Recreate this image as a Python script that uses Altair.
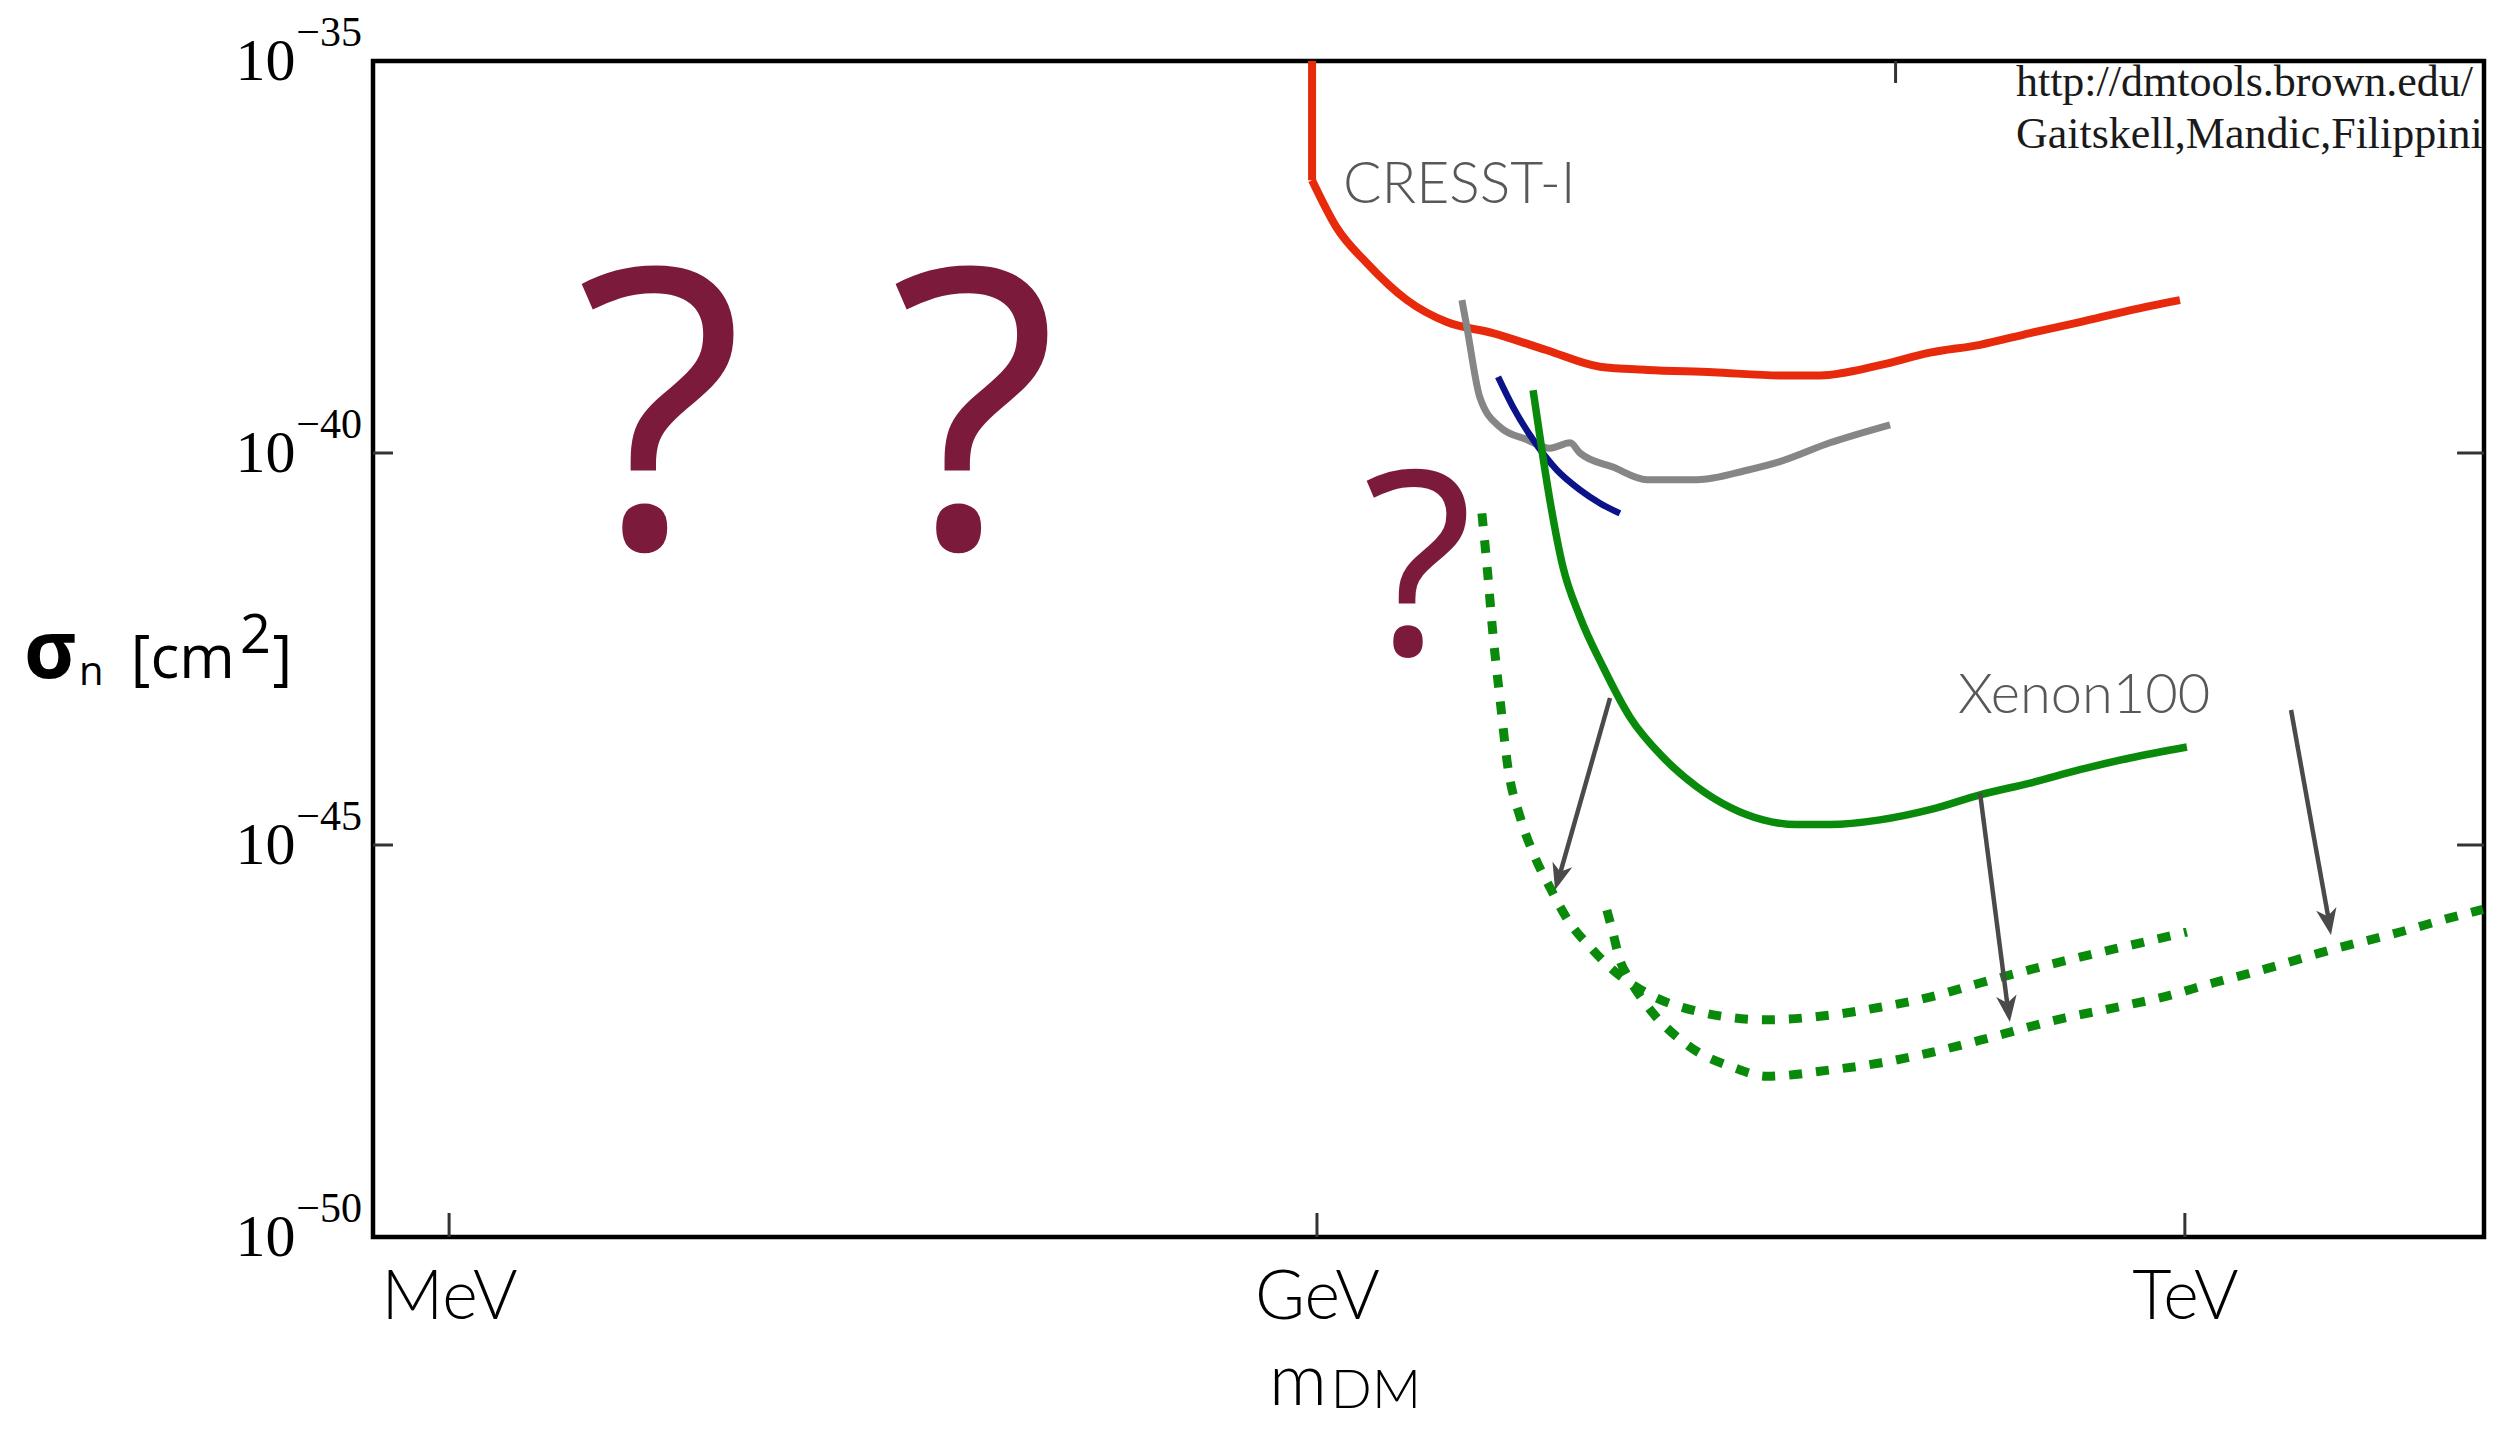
import altair as alt
import pandas as pd

# ---------------- values ----------------
# all positions are log10(m / GeV) and log10(sigma / cm^2)
X_LO, X_HI = -3.263, 4.034
Y_LO, Y_HI = -50.0, -35.0

x_ticks = [-3, 0, 3]
x_tick_labels = ["MeV", "GeV", "TeV"]
y_ticks = [-50, -45, -40, -35]
y_exponents = ["\u221250", "\u221245", "\u221240", "\u221235"]

# CRESST-I (red): vertical part, then the curve
red_vert_logm = [-0.017, -0.017]
red_vert_logs = [-35.0, -36.52]
red_logm = [-0.017, 0.069, 0.173, 0.311, 0.449, 0.608, 0.795, 0.978, 1.141,
            1.369, 1.600, 1.739, 1.946, 2.119, 2.292, 2.465, 2.637, 2.810, 2.983]
red_logs = [-36.52, -37.13, -37.58, -38.05, -38.33, -38.47, -38.69, -38.90, -38.94,
            -38.97, -39.01, -39.01, -38.88, -38.72, -38.62, -38.47, -38.33, -38.18, -38.05]
# grey curve
gray_logm = [0.501, 0.518, 0.563, 0.633, 0.726, 0.805, 0.875, 0.909, 1.023, 1.141,
             1.314, 1.486, 1.600, 1.773, 1.981]
gray_logs = [-38.05, -38.39, -39.29, -39.67, -39.83, -39.94, -39.87, -40.00, -40.18, -40.34,
             -40.34, -40.22, -40.11, -39.87, -39.64]
# blue curve
blue_logm = [0.626, 0.677, 0.747, 0.830, 0.909, 0.978, 1.047]
blue_logs = [-39.03, -39.41, -39.83, -40.22, -40.47, -40.64, -40.77]
# Xenon100 (solid green)
green_logm = [0.747, 0.781, 0.805, 0.850, 0.909, 0.989, 1.082, 1.196, 1.314, 1.428,
              1.542, 1.659, 1.773, 1.946, 2.119, 2.292, 2.465, 2.637, 2.810, 3.007]
green_logs = [-39.20, -40.05, -40.60, -41.45, -42.09, -42.73, -43.37, -43.88, -44.26, -44.52,
              -44.68, -44.74, -44.74, -44.68, -44.55, -44.36, -44.21, -44.04, -43.89, -43.75]
# projection A (dotted green, upper)
projA_logm = [0.570, 0.588, 0.608, 0.633, 0.660, 0.702, 0.747, 0.805, 0.875, 0.944, 1.013,
              1.151, 1.324, 1.555, 1.773, 1.946, 2.119, 2.292, 2.465, 2.637, 2.810, 3.007]
projA_logs = [-40.77, -41.45, -42.30, -43.15, -44.01, -44.64, -45.10, -45.54, -46.00, -46.30, -46.56,
              -46.91, -47.13, -47.23, -47.17, -47.07, -46.94, -46.76, -46.59, -46.43, -46.28, -46.11]
# projection B (dotted green, lower)
projB_logm = [1.002, 1.023, 1.047, 1.072, 1.137, 1.276, 1.441, 1.555, 1.773, 1.946, 2.119,
              2.292, 2.579, 2.751, 2.924, 3.097, 3.270, 3.502, 3.744, 3.916, 4.030]
projB_logs = [-45.83, -46.12, -46.47, -46.66, -47.03, -47.54, -47.84, -47.95, -47.87, -47.78, -47.65,
              -47.49, -47.21, -47.08, -46.94, -46.76, -46.59, -46.34, -46.11, -45.93, -45.82]

# arrows: start, shaft end, tip, rotation of head
arrow_x0 = [1.013, 2.292, 3.367]
arrow_y0 = [-43.125, -44.337, -43.278]
arrow_xs = [0.837, 2.388, 3.498]
arrow_ys = [-45.408, -47.079, -45.969]
arrow_xt = [0.823, 2.395, 3.505]
arrow_yt = [-45.574, -47.258, -46.148]
arrow_angle = [16.0, 352.5, 349.9]

# inward frame ticks
tick_x1 = [-3.263, -3.263, 3.941, 3.941, -3, 0, 3, 2]
tick_x2 = [-3.194, -3.194, 4.034, 4.034, -3, 0, 3, 2]
tick_y1 = [-40, -45, -40, -45, -50, -50, -50, -35]
tick_y2 = [-40, -45, -40, -45, -49.694, -49.694, -49.694, -35.28]

# annotations
qm_text = ["?", "?", "?"]
qm_logm = [-2.271, -1.186, 0.349]
qm_logs = [-41.21, -41.21, -42.56]
qm_size = [390, 390, 256]

exp_label_text = ["CRESST-I", "Xenon100"]
exp_label_logm = [0.090, 2.216]
exp_label_logs = [-36.81, -43.32]
exp_label_size = [57, 56]

credit_text = ["http://dmtools.brown.edu/", "Gaitskell,Mandic,Filippini"]
credit_logm = [2.416, 2.416]
credit_logs = [-35.45, -36.11]

ytitle_text = ["n", "[cm", "2", "]"]
ytitle_logm = [-4.279, -4.100, -3.723, -3.610]
ytitle_logs = [-42.959, -42.870, -42.551, -42.870]
ytitle_size = [40, 60, 54, 60]
sigma_logm, sigma_logs = -4.469, -42.870

xtitle_text = ["m", "DM"]
xtitle_logm = [-0.166, 0.048]
xtitle_logs = [-52.143, -52.181]
xtitle_size = [72, 54]

# ---------------- helpers ----------------
def p(v):
    return 10.0 ** v

xscale = alt.Scale(type="log", domain=[p(X_LO), p(X_HI)], nice=False)
yscale = alt.Scale(type="log", domain=[p(Y_LO), p(Y_HI)], nice=False)

x_expr = "datum.value < 0.03 ? '%s' : (datum.value < 30 ? '%s' : '%s')" % tuple(x_tick_labels)
xaxis = alt.Axis(values=[p(v) for v in x_ticks], labelExpr=x_expr, title=None, grid=False,
                 ticks=False, tickSize=0, domain=False, labelFont="Lato", labelFontSize=68,
                 labelFontWeight=300, labelColor="black", labelPadding=81,
                 labelBaseline="alphabetic", labelFlush=False, labelOverlap=False)
yaxis = alt.Axis(values=[p(v) for v in y_ticks], labelExpr="'10'", title=None, grid=False,
                 ticks=False, tickSize=0, domain=False, labelFont="Liberation Serif",
                 labelFontSize=60, labelColor="black", labelPadding=78,
                 labelFlush=False, labelOverlap=False)

def X(f):
    return alt.X(f, type="quantitative", scale=xscale, axis=xaxis)

def Y(f):
    return alt.Y(f, type="quantitative", scale=yscale, axis=yaxis)

def curve_df(lm, ls):
    return pd.DataFrame({"i": list(range(len(lm))), "m": [p(v) for v in lm], "s": [p(v) for v in ls]})

def line(lm, ls, color, width, dash=None, interp="linear"):
    kw = dict(color=color, strokeWidth=width, interpolate=interp, clip=True, strokeCap="butt")
    if dash:
        kw["strokeDash"] = dash
    return alt.Chart(curve_df(lm, ls)).mark_line(**kw).encode(
        x=X("m"), y=Y("s"), order=alt.Order("i:Q"))

RED = "#E82A0C"
GREEN = "#0A8A0A"
layers = []
layers.append(line(red_vert_logm, red_vert_logs, RED, 8))
layers.append(line(red_logm, red_logs, RED, 8, interp="monotone"))
layers.append(line(gray_logm, gray_logs, "#868686", 7, interp="monotone"))
layers.append(line(blue_logm, blue_logs, "#0A1488", 6.5, interp="monotone"))
layers.append(line(green_logm, green_logs, GREEN, 7.5, interp="monotone"))
layers.append(line(projA_logm, projA_logs, GREEN, 9, dash=[13, 14], interp="monotone"))
layers.append(line(projB_logm, projB_logs, GREEN, 9, dash=[13, 14], interp="monotone"))

# frame ticks
tick_df = pd.DataFrame({"x1": [p(v) for v in tick_x1], "x2": [p(v) for v in tick_x2],
                        "y1": [p(v) for v in tick_y1], "y2": [p(v) for v in tick_y2]})
layers.append(alt.Chart(tick_df).mark_rule(color="#333333", strokeWidth=3).encode(
    x=X("x1"), x2="x2", y=Y("y1"), y2="y2"))

# arrows
arrow_df = pd.DataFrame({"x0": [p(v) for v in arrow_x0], "y0": [p(v) for v in arrow_y0],
                         "xs": [p(v) for v in arrow_xs], "ys": [p(v) for v in arrow_ys],
                         "xt": [p(v) for v in arrow_xt], "yt": [p(v) for v in arrow_yt],
                         "ang": arrow_angle})
layers.append(alt.Chart(arrow_df).mark_rule(color="#4a4a4a", strokeWidth=4.5).encode(
    x=X("x0"), x2="xs", y=Y("y0"), y2="ys"))
layers.append(alt.Chart(arrow_df).mark_point(
    shape="M0,0 L-0.62,-1.6 L0,-1.15 L0.62,-1.6 Z", filled=True, size=1100,
    opacity=1, color="#4a4a4a").encode(
    x=X("xt"), y=Y("yt"), angle=alt.Angle("ang:Q", scale=None)))

# y tick exponents
exp_df = pd.DataFrame({"x": [p(X_LO)] * len(y_ticks), "y": [p(v) for v in y_ticks], "t": y_exponents})
layers.append(alt.Chart(exp_df).mark_text(font="Liberation Serif", fontSize=42, color="black",
                                          align="right", baseline="alphabetic", dx=-11, dy=-15).encode(
    x=X("x"), y=Y("y"), text="t:N"))

# question marks
qm_df = pd.DataFrame({"x": [p(v) for v in qm_logm], "y": [p(v) for v in qm_logs],
                      "t": qm_text, "fs": qm_size})
layers.append(alt.Chart(qm_df).mark_text(font="Open Sans", color="#7B1A3B", align="center",
                                         baseline="alphabetic").encode(
    x=X("x"), y=Y("y"), text="t:N", size=alt.Size("fs:Q", scale=None)))

# experiment labels
lab_df = pd.DataFrame({"x": [p(v) for v in exp_label_logm], "y": [p(v) for v in exp_label_logs],
                       "t": exp_label_text, "fs": exp_label_size})
layers.append(alt.Chart(lab_df).mark_text(font="Lato", fontWeight=300, color="#585858", align="left",
                                          baseline="alphabetic").encode(
    x=X("x"), y=Y("y"), text="t:N", size=alt.Size("fs:Q", scale=None)))

# credit
cr_df = pd.DataFrame({"x": [p(v) for v in credit_logm], "y": [p(v) for v in credit_logs], "t": credit_text})
layers.append(alt.Chart(cr_df).mark_text(font="Liberation Serif", fontSize=44, color="#1a1a1a",
                                         align="left", baseline="alphabetic").encode(
    x=X("x"), y=Y("y"), text="t:N"))

# y title
sig_df = pd.DataFrame({"x": [p(sigma_logm)], "y": [p(sigma_logs)], "t": ["\u03c3"]})
layers.append(alt.Chart(sig_df).mark_text(font="Open Sans", fontSize=80, fontWeight="bold",
                                          color="black", align="left", baseline="alphabetic").encode(
    x=X("x"), y=Y("y"), text="t:N"))
yt_df = pd.DataFrame({"x": [p(v) for v in ytitle_logm], "y": [p(v) for v in ytitle_logs],
                      "t": ytitle_text, "fs": ytitle_size})
layers.append(alt.Chart(yt_df).mark_text(font="Open Sans", color="black", align="left",
                                         baseline="alphabetic").encode(
    x=X("x"), y=Y("y"), text="t:N", size=alt.Size("fs:Q", scale=None)))

# x title
xt_df = pd.DataFrame({"x": [p(v) for v in xtitle_logm], "y": [p(v) for v in xtitle_logs],
                      "t": xtitle_text, "fs": xtitle_size})
layers.append(alt.Chart(xt_df).mark_text(font="Lato", fontWeight=300, color="black", align="left",
                                         baseline="alphabetic").encode(
    x=X("x"), y=Y("y"), text="t:N", size=alt.Size("fs:Q", scale=None)))

chart = alt.layer(*layers).properties(
    width=2111, height=1176,
    autosize=alt.AutoSizeParams(type="none"),
    padding={"left": 365, "top": 53, "right": 24, "bottom": 185},
    background="white",
).configure_view(stroke="black", strokeWidth=4.5)

chart.save("out.html", embed_options={"renderer": "svg", "actions": False})
